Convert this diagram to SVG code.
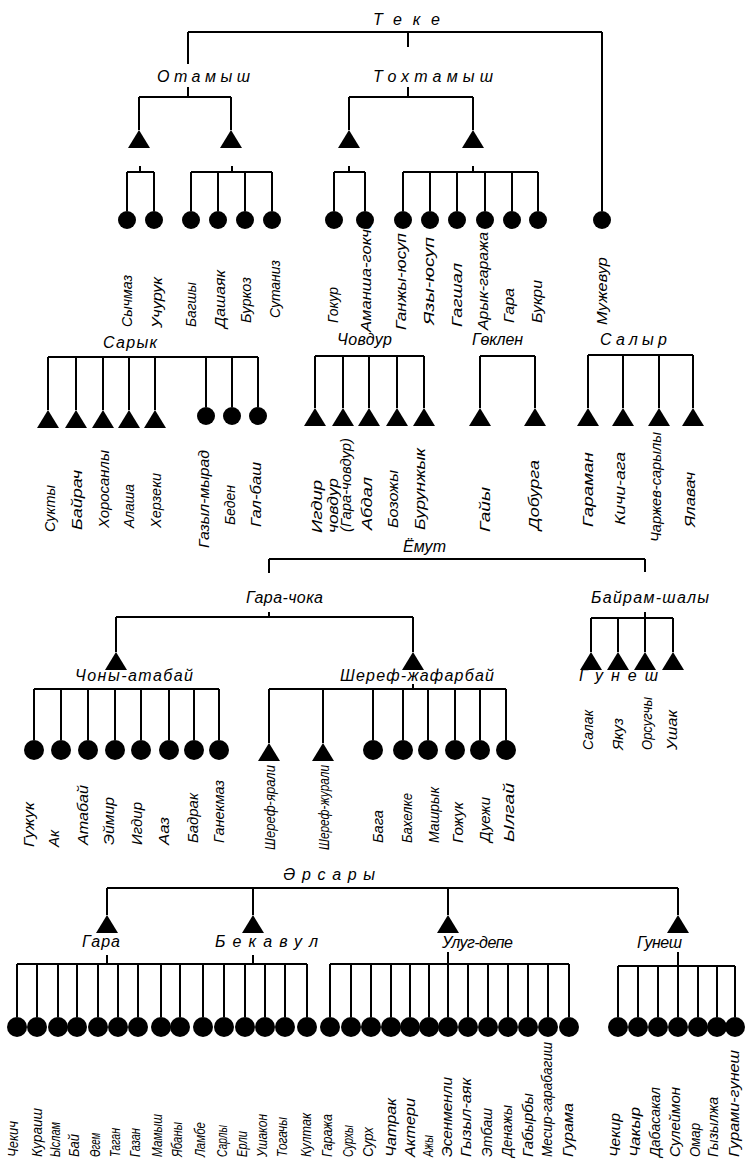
<svg xmlns="http://www.w3.org/2000/svg" xmlns:xlink="http://www.w3.org/1999/xlink" width="745" height="1159" viewBox="0 0 745 1159">
<style>
.ln{stroke:#000;stroke-width:2;fill:none}
.dot{fill:#000}
.tri{fill:#000}
text{font-family:"Liberation Sans",Arial,"DejaVu Sans",sans-serif;font-style:italic;fill:#000}
.h{font-size:16px}
.v{font-size:15px}
.s{font-size:14px}
</style>
<defs>
<path id="tri" class="tri" d="M0,0 L11,18 L-11,18 Z"/>
</defs>
<rect width="745" height="1159" fill="#fff"/>
<g id="connectors" class="ln">
<path d="M188,32 H602 M188,32 V64 M408,32 V47 M602,32 V211"/>
<path d="M188,87 V97 M139,97 H231 M139,97 V130 M231,97 V130"/>
<path d="M408,87 V97 M349,97 H473 M349,97 V130 M473,97 V130"/>
<path d="M140,166 V172 M127,172 H154 M127,172 V211 M154,172 V211"/>
<path d="M232,166 V172 M191,172 H272 M191,172 V211 M218,172 V211 M245,172 V211 M272,172 V211"/>
<path d="M349,166 V172 M334,172 H365 M334,172 V211 M365,172 V211"/>
<path d="M473,166 V172 M403,172 H538 M403,172 V211 M430,172 V211 M457,172 V211 M485,172 V211 M512,172 V211 M538,172 V211"/>
<path d="M48,357 H258 M48,357 V410 M76,357 V410 M103,357 V410 M129,357 V410 M155,357 V410 M206,357 V407 M232,357 V407 M258,357 V407"/>
<path d="M315,356 H424 M315,356 V408 M343,356 V408 M369,356 V408 M397,356 V408 M424,356 V408"/>
<path d="M480,356 H535 M480,356 V408 M535,356 V408"/>
<path d="M588,355 H693 M588,355 V408 M623,355 V408 M659,355 V408 M693,355 V408"/>
<path d="M269,559 H645 M269,559 V573 M645,559 V572"/>
<path d="M269,612 V617 M116,617 H413 M116,617 V652 M413,617 V652"/>
<path d="M645,612 V618 M591,618 H673 M591,618 V652 M618,618 V652 M645,618 V652 M673,618 V652"/>
<path d="M34,689 H219 M34,689 V740 M61,689 V740 M88,689 V740 M115,689 V740 M141,689 V740 M169,689 V740 M194,689 V740 M219,689 V740"/>
<path d="M413,684 V689 M269,689 H506 M269,689 V743 M323,689 V743 M373,689 V740 M403,689 V740 M428,689 V740 M455,689 V740 M480,689 V740 M506,689 V740"/>
<path d="M107,888 H678 M107,888 V915 M253,888 V915 M448,888 V915 M678,888 V915"/>
<path d="M107,955 V964 M253,955 V964 M17,964 H307 M17,964 V1017 M37,964 V1017 M58,964 V1017 M77,964 V1017 M98,964 V1017 M118,964 V1017 M138,964 V1017 M161,964 V1017 M180,964 V1017 M203,964 V1017 M224,964 V1017 M245,964 V1017 M265,964 V1017 M285,964 V1017 M307,964 V1017"/>
<path d="M448,952 V964 M330,964 H569 M330,964 V1017 M351,964 V1017 M371,964 V1017 M391,964 V1017 M410,964 V1017 M429,964 V1017 M448,964 V1017 M468,964 V1017 M488,964 V1017 M508,964 V1017 M528,964 V1017 M548,964 V1017 M569,964 V1017"/>
<path d="M678,952 V966 M618,966 H735 M618,966 V1017 M638,966 V1017 M658,966 V1017 M678,966 V1017 M698,966 V1017 M717,966 V1017 M735,966 V1017"/>
</g>

<!-- Teke -->
<g id="teke"><text class="h" x="373" y="25" textLength="67">Теке</text></g>
<g id="otamysh"><text class="h" x="157" y="82" textLength="93">Отамыш</text></g>
<g id="tokhtamysh"><text class="h" x="373" y="82" textLength="120">Тохтамыш</text></g>
<g id="ot-1"><use xlink:href="#tri" x="139" y="130"/></g>
<g id="ot-2"><use xlink:href="#tri" x="231" y="130"/></g>
<g id="tk-1"><use xlink:href="#tri" x="349" y="130"/></g>
<g id="tk-2"><use xlink:href="#tri" x="473" y="130"/></g>
<g id="sychmaz"><circle class="dot" cx="127" cy="220" r="9"/><text class="v" transform="translate(132,327) rotate(-90)" textLength="52" lengthAdjust="spacingAndGlyphs">Сычмаз</text></g>
<g id="uchuruk"><circle class="dot" cx="154" cy="220" r="9"/><text class="v" transform="translate(162,328) rotate(-90)" textLength="51" lengthAdjust="spacingAndGlyphs">Учурук</text></g>
<g id="bagshy"><circle class="dot" cx="191" cy="220" r="9"/><text class="v" transform="translate(196,327) rotate(-90)" textLength="45" lengthAdjust="spacingAndGlyphs">Багшы</text></g>
<g id="dashayak"><circle class="dot" cx="218" cy="220" r="9"/><text class="v" transform="translate(225,328) rotate(-90)" textLength="58" lengthAdjust="spacingAndGlyphs">Дашаяк</text></g>
<g id="burkoz"><circle class="dot" cx="245" cy="220" r="9"/><text class="v" transform="translate(251,323) rotate(-90)" textLength="46" lengthAdjust="spacingAndGlyphs">Буркоз</text></g>
<g id="sutaniz"><circle class="dot" cx="272" cy="220" r="9"/><text class="v" transform="translate(280,318) rotate(-90)" textLength="58" lengthAdjust="spacingAndGlyphs">Сутаниз</text></g>
<g id="gokur"><circle class="dot" cx="334" cy="220" r="9"/><text class="v" transform="translate(338,323) rotate(-90)" textLength="36" lengthAdjust="spacingAndGlyphs">Гокур</text></g>
<g id="amansha"><circle class="dot" cx="365" cy="220" r="9"/><text class="v" transform="translate(371,332) rotate(-90)" textLength="112" lengthAdjust="spacingAndGlyphs">Аманша-гокче</text></g>
<g id="ganjy"><circle class="dot" cx="403" cy="220" r="9"/><text class="v" transform="translate(406,330) rotate(-90)" textLength="97" lengthAdjust="spacingAndGlyphs">Ганжы-юсуп</text></g>
<g id="yazy"><circle class="dot" cx="430" cy="220" r="9"/><text class="v" transform="translate(434,325) rotate(-90)" textLength="88" lengthAdjust="spacingAndGlyphs">Язы-юсуп</text></g>
<g id="gagshal"><circle class="dot" cx="457" cy="220" r="9"/><text class="v" transform="translate(462,327) rotate(-90)" textLength="64" lengthAdjust="spacingAndGlyphs">Гагшал</text></g>
<g id="aryk"><circle class="dot" cx="485" cy="220" r="9"/><text class="v" transform="translate(488,330) rotate(-90)" textLength="98" lengthAdjust="spacingAndGlyphs">Арык-гаража</text></g>
<g id="gara-t"><circle class="dot" cx="512" cy="220" r="9"/><text class="v" transform="translate(514,323) rotate(-90)" textLength="35" lengthAdjust="spacingAndGlyphs">Гара</text></g>
<g id="bukri"><circle class="dot" cx="538" cy="220" r="9"/><text class="v" transform="translate(542,323) rotate(-90)" textLength="43" lengthAdjust="spacingAndGlyphs">Букри</text></g>
<g id="muzhevur"><circle class="dot" cx="602" cy="220" r="9"/><text class="v" transform="translate(607,325) rotate(-90)" textLength="68" lengthAdjust="spacingAndGlyphs">Мужевур</text></g>

<!-- Saryk -->
<g id="saryk"><text class="h" x="103" y="348" textLength="54">Сарык</text></g>
<g id="sukty"><use xlink:href="#tri" x="48" y="410"/><text class="v" transform="translate(55,532) rotate(-90)" textLength="47" lengthAdjust="spacingAndGlyphs">Сукты</text></g>
<g id="bayrach"><use xlink:href="#tri" x="76" y="410"/><text class="v" transform="translate(82,530) rotate(-90)" textLength="60" lengthAdjust="spacingAndGlyphs">Байрач</text></g>
<g id="khorosanly"><use xlink:href="#tri" x="103" y="410"/><text class="v" transform="translate(109,528) rotate(-90)" textLength="78" lengthAdjust="spacingAndGlyphs">Хоросанлы</text></g>
<g id="alasha"><use xlink:href="#tri" x="129" y="410"/><text class="v" transform="translate(134,528) rotate(-90)" textLength="44" lengthAdjust="spacingAndGlyphs">Алаша</text></g>
<g id="kherzeki"><use xlink:href="#tri" x="155" y="410"/><text class="v" transform="translate(161,528) rotate(-90)" textLength="55" lengthAdjust="spacingAndGlyphs">Херзеки</text></g>
<g id="gazyl"><circle class="dot" cx="206" cy="416" r="9"/><text class="v" transform="translate(209,548) rotate(-90)" textLength="98" lengthAdjust="spacingAndGlyphs">Газыл-мырад</text></g>
<g id="beden"><circle class="dot" cx="232" cy="416" r="9"/><text class="v" transform="translate(235,525) rotate(-90)" textLength="40" lengthAdjust="spacingAndGlyphs">Беден</text></g>
<g id="galbash"><circle class="dot" cx="258" cy="416" r="9"/><text class="v" transform="translate(261,527) rotate(-90)" textLength="65" lengthAdjust="spacingAndGlyphs">Гал-баш</text></g>

<!-- Chovdur -->
<g id="chovdur"><text class="h" x="337" y="345" textLength="55">Човдур</text></g>
<g id="igdir-c"><use xlink:href="#tri" x="315" y="408"/><text class="v" transform="translate(322,533) rotate(-90)" textLength="53" lengthAdjust="spacingAndGlyphs">Игдир</text></g>
<g id="chovdur-c"><use xlink:href="#tri" x="343" y="408"/><text class="v" transform="translate(338,533) rotate(-90)" textLength="55" lengthAdjust="spacingAndGlyphs">човдур</text><text class="v" transform="translate(351,532) rotate(-90)" textLength="94" lengthAdjust="spacingAndGlyphs">(Гара-човдур)</text></g>
<g id="abdal"><use xlink:href="#tri" x="369" y="408"/><text class="v" transform="translate(372,530) rotate(-90)" textLength="53" lengthAdjust="spacingAndGlyphs">Абдал</text></g>
<g id="bozozhy"><use xlink:href="#tri" x="397" y="408"/><text class="v" transform="translate(398,528) rotate(-90)" textLength="58" lengthAdjust="spacingAndGlyphs">Бозожы</text></g>
<g id="burunzhyk"><use xlink:href="#tri" x="424" y="408"/><text class="v" transform="translate(425,530) rotate(-90)" textLength="82" lengthAdjust="spacingAndGlyphs">Бурунжык</text></g>

<!-- Goklen -->
<g id="goklen"><text class="h" x="472" y="345" textLength="51">Гөклен</text></g>
<g id="gayy"><use xlink:href="#tri" x="480" y="408"/><text class="v" transform="translate(490,532) rotate(-90)" textLength="45" lengthAdjust="spacingAndGlyphs">Гайы</text></g>
<g id="doburga"><use xlink:href="#tri" x="535" y="408"/><text class="v" transform="translate(539,530) rotate(-90)" textLength="70" lengthAdjust="spacingAndGlyphs">Добурга</text></g>

<!-- Salyr -->
<g id="salyr"><text class="h" x="600" y="345" textLength="67">Салыр</text></g>
<g id="garaman"><use xlink:href="#tri" x="588" y="408"/><text class="v" transform="translate(593,527) rotate(-90)" textLength="75" lengthAdjust="spacingAndGlyphs">Гараман</text></g>
<g id="kichi"><use xlink:href="#tri" x="623" y="408"/><text class="v" transform="translate(625,525) rotate(-90)" textLength="73" lengthAdjust="spacingAndGlyphs">Кичи-ага</text></g>
<g id="charzhev"><use xlink:href="#tri" x="659" y="408"/><text class="v" transform="translate(661,542) rotate(-90)" textLength="110" lengthAdjust="spacingAndGlyphs">Чаржев-сарылы</text></g>
<g id="yalavach"><use xlink:href="#tri" x="693" y="408"/><text class="v" transform="translate(695,527) rotate(-90)" textLength="55" lengthAdjust="spacingAndGlyphs">Ялавач</text></g>

<!-- Yomut -->
<g id="yomut"><text class="h" x="403" y="552" textLength="43">Ёмут</text></g>
<g id="garachoka"><text class="h" x="246" y="603" textLength="77">Гара-чока</text></g>
<g id="bayram"><text class="h" x="591" y="603" textLength="118">Байрам-шалы</text></g>
<g id="chony"><use xlink:href="#tri" x="116" y="652"/><text class="h" x="75" y="681" textLength="118">Чоны-атабай</text></g>
<g id="sheref"><use xlink:href="#tri" x="413" y="652"/><text class="h" x="340" y="681" textLength="154">Шереф-жафарбай</text></g>
<g id="gunesh-y"><use xlink:href="#tri" x="591" y="652"/><use xlink:href="#tri" x="618" y="652"/><use xlink:href="#tri" x="645" y="652"/><use xlink:href="#tri" x="673" y="652"/><text class="h" x="579" y="681" textLength="79">Гунеш</text>
<text class="v" transform="translate(593,750) rotate(-90)" textLength="40" lengthAdjust="spacingAndGlyphs">Салак</text>
<text class="v" transform="translate(623,750) rotate(-90)" textLength="32" lengthAdjust="spacingAndGlyphs">Якуз</text>
<text class="v" transform="translate(652,750) rotate(-90)" textLength="53" lengthAdjust="spacingAndGlyphs">Орсугчы</text>
<text class="v" transform="translate(677,750) rotate(-90)" textLength="40" lengthAdjust="spacingAndGlyphs">Ушак</text></g>
<g id="guzhuk"><circle class="dot" cx="34" cy="750" r="10"/><text class="v" transform="translate(34,847) rotate(-90)" textLength="45" lengthAdjust="spacingAndGlyphs">Гужук</text></g>
<g id="ak"><circle class="dot" cx="61" cy="750" r="10"/><text class="v" transform="translate(59,847) rotate(-90)" textLength="17" lengthAdjust="spacingAndGlyphs">Ак</text></g>
<g id="atabay"><circle class="dot" cx="88" cy="750" r="10"/><text class="v" transform="translate(88,845) rotate(-90)" textLength="60" lengthAdjust="spacingAndGlyphs">Атабай</text></g>
<g id="eymir"><circle class="dot" cx="115" cy="750" r="10"/><text class="v" transform="translate(114,845) rotate(-90)" textLength="48" lengthAdjust="spacingAndGlyphs">Эймир</text></g>
<g id="igdir-y"><circle class="dot" cx="141" cy="750" r="10"/><text class="v" transform="translate(142,845) rotate(-90)" textLength="43" lengthAdjust="spacingAndGlyphs">Игдир</text></g>
<g id="aaz"><circle class="dot" cx="169" cy="750" r="10"/><text class="v" transform="translate(169,845) rotate(-90)" textLength="28" lengthAdjust="spacingAndGlyphs">Ааз</text></g>
<g id="badrak"><circle class="dot" cx="194" cy="750" r="10"/><text class="v" transform="translate(198,843) rotate(-90)" textLength="50" lengthAdjust="spacingAndGlyphs">Бадрак</text></g>
<g id="ganekmaz"><circle class="dot" cx="219" cy="750" r="10"/><text class="v" transform="translate(224,843) rotate(-90)" textLength="63" lengthAdjust="spacingAndGlyphs">Ганекмаз</text></g>
<g id="sheref-yarali"><use xlink:href="#tri" x="269" y="743"/><text class="v" transform="translate(275,850) rotate(-90)" textLength="85" lengthAdjust="spacingAndGlyphs">Шереф-ярали</text></g>
<g id="sheref-zhurali"><use xlink:href="#tri" x="323" y="743"/><text class="v" transform="translate(329,850) rotate(-90)" textLength="85" lengthAdjust="spacingAndGlyphs">Шереф-журали</text></g>
<g id="baga"><circle class="dot" cx="373" cy="750" r="10"/><text class="v" transform="translate(383,843) rotate(-90)" textLength="33" lengthAdjust="spacingAndGlyphs">Бага</text></g>
<g id="bakhelke"><circle class="dot" cx="403" cy="750" r="10"/><text class="v" transform="translate(412,843) rotate(-90)" textLength="50" lengthAdjust="spacingAndGlyphs">Бахелке</text></g>
<g id="mashryk"><circle class="dot" cx="428" cy="750" r="10"/><text class="v" transform="translate(439,843) rotate(-90)" textLength="56" lengthAdjust="spacingAndGlyphs">Машрык</text></g>
<g id="gozhuk"><circle class="dot" cx="455" cy="750" r="10"/><text class="v" transform="translate(463,843) rotate(-90)" textLength="41" lengthAdjust="spacingAndGlyphs">Гожук</text></g>
<g id="duyezhi"><circle class="dot" cx="480" cy="750" r="10"/><text class="v" transform="translate(490,842) rotate(-90)" textLength="45" lengthAdjust="spacingAndGlyphs">Дуежи</text></g>
<g id="ylgay"><circle class="dot" cx="506" cy="750" r="10"/><text class="v" transform="translate(514,842) rotate(-90)" textLength="59" lengthAdjust="spacingAndGlyphs">Ылгай</text></g>

<!-- Ersary -->
<g id="ersary"><text class="h" x="283" y="880" textLength="92">Әрсары</text></g>
<g id="gara-e"><use xlink:href="#tri" x="107" y="915"/><text class="h" x="82" y="947" textLength="38">Гара</text></g>
<g id="bekavul"><use xlink:href="#tri" x="253" y="915"/><text class="h" x="215" y="947" textLength="103">Бекавул</text></g>
<g id="ulug"><use xlink:href="#tri" x="448" y="915"/><text class="h" x="442" y="948" textLength="71">Улуг-депе</text></g>
<g id="gunesh-e"><use xlink:href="#tri" x="678" y="915"/><text class="h" x="637" y="948" textLength="45">Гунеш</text></g>

<g id="chekich"><circle class="dot" cx="17" cy="1027" r="10"/><text class="s" transform="translate(18,1157) rotate(-90)" textLength="36" lengthAdjust="spacingAndGlyphs">Чекич</text></g>
<g id="kuraish"><circle class="dot" cx="37" cy="1027" r="10"/><text class="s" transform="translate(42,1157) rotate(-90)" textLength="49" lengthAdjust="spacingAndGlyphs">Кураиш</text></g>
<g id="yslam"><circle class="dot" cx="58" cy="1027" r="10"/><text class="s" transform="translate(60,1157) rotate(-90)" textLength="35" lengthAdjust="spacingAndGlyphs">Ыслам</text></g>
<g id="bay"><circle class="dot" cx="77" cy="1027" r="10"/><text class="s" transform="translate(79,1157) rotate(-90)" textLength="23" lengthAdjust="spacingAndGlyphs">Бай</text></g>
<g id="ogem"><circle class="dot" cx="98" cy="1027" r="10"/><text class="s" transform="translate(100,1157) rotate(-90)" textLength="24" lengthAdjust="spacingAndGlyphs">Өгем</text></g>
<g id="tagan"><circle class="dot" cx="118" cy="1027" r="10"/><text class="s" transform="translate(120,1157) rotate(-90)" textLength="29" lengthAdjust="spacingAndGlyphs">Таган</text></g>
<g id="gazan"><circle class="dot" cx="138" cy="1027" r="10"/><text class="s" transform="translate(140,1157) rotate(-90)" textLength="29" lengthAdjust="spacingAndGlyphs">Газан</text></g>
<g id="mamysh"><circle class="dot" cx="161" cy="1027" r="10"/><text class="s" transform="translate(162,1157) rotate(-90)" textLength="43" lengthAdjust="spacingAndGlyphs">Мамыш</text></g>
<g id="yabany"><circle class="dot" cx="180" cy="1027" r="10"/><text class="s" transform="translate(182,1157) rotate(-90)" textLength="35" lengthAdjust="spacingAndGlyphs">Ябаны</text></g>
<g id="lambe"><circle class="dot" cx="203" cy="1027" r="10"/><text class="s" transform="translate(205,1157) rotate(-90)" textLength="35" lengthAdjust="spacingAndGlyphs">Ламбе</text></g>
<g id="sarly"><circle class="dot" cx="224" cy="1027" r="10"/><text class="s" transform="translate(227,1157) rotate(-90)" textLength="32" lengthAdjust="spacingAndGlyphs">Сарлы</text></g>
<g id="yerli"><circle class="dot" cx="245" cy="1027" r="10"/><text class="s" transform="translate(247,1157) rotate(-90)" textLength="26" lengthAdjust="spacingAndGlyphs">Ерли</text></g>
<g id="ushakon"><circle class="dot" cx="265" cy="1027" r="10"/><text class="s" transform="translate(267,1157) rotate(-90)" textLength="43" lengthAdjust="spacingAndGlyphs">Ушакон</text></g>
<g id="togachy"><circle class="dot" cx="285" cy="1027" r="10"/><text class="s" transform="translate(287,1157) rotate(-90)" textLength="40" lengthAdjust="spacingAndGlyphs">Тогачы</text></g>
<g id="kultak"><circle class="dot" cx="307" cy="1027" r="10"/><text class="s" transform="translate(311,1157) rotate(-90)" textLength="44" lengthAdjust="spacingAndGlyphs">Култак</text></g>
<g id="garazha"><circle class="dot" cx="330" cy="1027" r="10"/><text class="s" transform="translate(332,1157) rotate(-90)" textLength="43" lengthAdjust="spacingAndGlyphs">Гаража</text></g>
<g id="surkhy"><circle class="dot" cx="351" cy="1027" r="10"/><text class="s" transform="translate(353,1157) rotate(-90)" textLength="32" lengthAdjust="spacingAndGlyphs">Сурхы</text></g>
<g id="surkh"><circle class="dot" cx="371" cy="1027" r="10"/><text class="s" transform="translate(373,1157) rotate(-90)" textLength="30" lengthAdjust="spacingAndGlyphs">Сурх</text></g>
<g id="chatrak"><circle class="dot" cx="391" cy="1027" r="10"/><text class="s" transform="translate(396,1157) rotate(-90)" textLength="59" lengthAdjust="spacingAndGlyphs">Чатрак</text></g>
<g id="akteri"><circle class="dot" cx="410" cy="1027" r="10"/><text class="s" transform="translate(415,1157) rotate(-90)" textLength="59" lengthAdjust="spacingAndGlyphs">Актери</text></g>
<g id="azhy"><circle class="dot" cx="429" cy="1027" r="10"/><text class="s" transform="translate(433,1157) rotate(-90)" textLength="22" lengthAdjust="spacingAndGlyphs">Ажы</text></g>
<g id="esenmenli"><circle class="dot" cx="448" cy="1027" r="10"/><text class="s" transform="translate(452,1157) rotate(-90)" textLength="80" lengthAdjust="spacingAndGlyphs">Эсенменли</text></g>
<g id="gyzylayak"><circle class="dot" cx="468" cy="1027" r="10"/><text class="s" transform="translate(471,1157) rotate(-90)" textLength="79" lengthAdjust="spacingAndGlyphs">Гызыл-аяк</text></g>
<g id="etbash"><circle class="dot" cx="488" cy="1027" r="10"/><text class="s" transform="translate(492,1157) rotate(-90)" textLength="49" lengthAdjust="spacingAndGlyphs">Этбаш</text></g>
<g id="denazhy"><circle class="dot" cx="508" cy="1027" r="10"/><text class="s" transform="translate(512,1157) rotate(-90)" textLength="52" lengthAdjust="spacingAndGlyphs">Денажы</text></g>
<g id="gabyrby"><circle class="dot" cx="528" cy="1027" r="10"/><text class="s" transform="translate(533,1157) rotate(-90)" textLength="64" lengthAdjust="spacingAndGlyphs">Габырбы</text></g>
<g id="mesir"><circle class="dot" cx="548" cy="1027" r="10"/><text class="s" transform="translate(552,1157) rotate(-90)" textLength="115" lengthAdjust="spacingAndGlyphs">Месир-гарабагиш</text></g>
<g id="gurama"><circle class="dot" cx="569" cy="1027" r="10"/><text class="s" transform="translate(573,1157) rotate(-90)" textLength="54" lengthAdjust="spacingAndGlyphs">Гурама</text></g>
<g id="chekir"><circle class="dot" cx="618" cy="1027" r="10"/><text class="s" transform="translate(620,1157) rotate(-90)" textLength="44" lengthAdjust="spacingAndGlyphs">Чекир</text></g>
<g id="chakyr"><circle class="dot" cx="638" cy="1027" r="10"/><text class="s" transform="translate(640,1157) rotate(-90)" textLength="50" lengthAdjust="spacingAndGlyphs">Чакыр</text></g>
<g id="dabasakal"><circle class="dot" cx="658" cy="1027" r="10"/><text class="s" transform="translate(660,1157) rotate(-90)" textLength="70" lengthAdjust="spacingAndGlyphs">Дабасакал</text></g>
<g id="suleymon"><circle class="dot" cx="678" cy="1027" r="10"/><text class="s" transform="translate(680,1157) rotate(-90)" textLength="70" lengthAdjust="spacingAndGlyphs">Сулеймон</text></g>
<g id="omar"><circle class="dot" cx="698" cy="1027" r="10"/><text class="s" transform="translate(700,1157) rotate(-90)" textLength="34" lengthAdjust="spacingAndGlyphs">Омар</text></g>
<g id="gyzylzha"><circle class="dot" cx="717" cy="1027" r="10"/><text class="s" transform="translate(718,1157) rotate(-90)" textLength="60" lengthAdjust="spacingAndGlyphs">Гызылжа</text></g>
<g id="gurami"><circle class="dot" cx="735" cy="1027" r="10"/><text class="s" transform="translate(739,1157) rotate(-90)" textLength="107" lengthAdjust="spacingAndGlyphs">Гурами-гунеш</text></g>
</svg>
